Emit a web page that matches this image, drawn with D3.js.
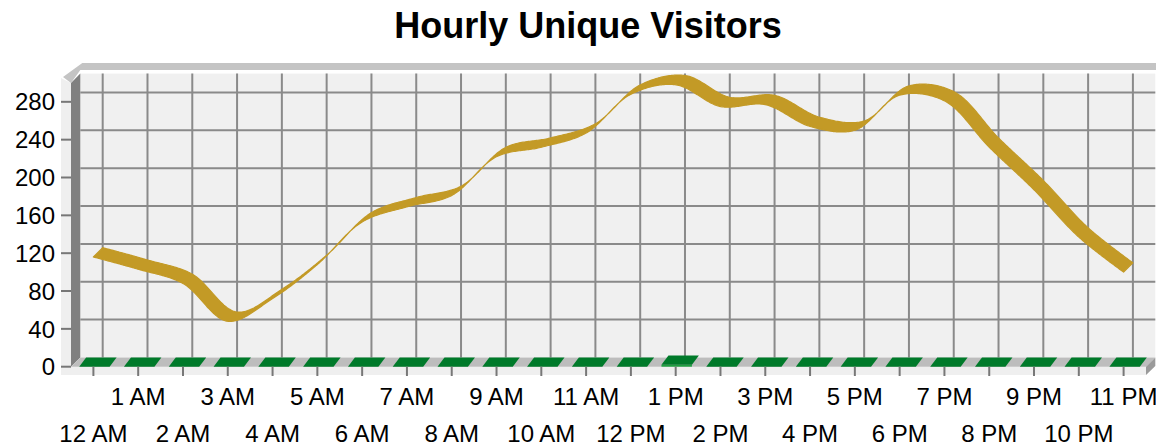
<!DOCTYPE html>
<html>
<head>
<meta charset="utf-8">
<script src="https://cdn.jsdelivr.net/npm/d3@7"></script>
<style>
  html, body { margin: 0; padding: 0; background: #fff; }
  svg { display: block; }
</style>
</head>
<body>
<svg id="chart"></svg>
<script>
// chart data
const hours = ["12 AM", "1 AM", "2 AM", "3 AM", "4 AM", "5 AM", "6 AM", "7 AM", "8 AM", "9 AM", "10 AM", "11 AM",
               "12 PM", "1 PM", "2 PM", "3 PM", "4 PM", "5 PM", "6 PM", "7 PM", "8 PM", "9 PM", "10 PM", "11 PM"];
const visitors = [116, 103, 88, 48, 72, 108, 153, 169, 181, 222, 232, 247,
                  288, 298, 275, 277, 254, 250, 287, 281, 232, 187, 137, 100];
const barValues = [0, 0, 0, 0, 0, 0, 0, 0, 0, 0, 0, 0, 0, 2, 0, 0, 0, 0, 0, 0, 0, 0, 0, 0];
const yTicks = [0, 40, 80, 120, 160, 200, 240, 280];
const title = "Hourly Unique Visitors";

const width = 1156, height = 446;
const depth = 9.3;               // 3d offset (right, up)
const font = "'Liberation Sans', Arial, sans-serif";

const svg = d3.select("#chart").attr("width", width).attr("height", height);

// front plane scales
const x = d3.scaleBand().domain(hours).range([71, 1146]).paddingInner(0).paddingOuter(0);
const y = d3.scaleLinear().domain([0, 300]).range([366.7, 82.9]);
const cx = d => x(d) + x.bandwidth() / 2;

// outer light slab (left face + floor front face)
svg.append("path")
    .attr("d", `M61,78 L71,${y(300)} L71,${y(0)} L1146,${y(0)} L1146,375 L61,375 Z`)
    .attr("fill", "#efefef");

// top rim of back wall
svg.append("path")
    .attr("d", `M63,77 L${71 + depth + 2},63 L1156,63 L1156,70 L${71 + depth},70 L71,${y(300)} Z`)
    .attr("fill", "#c4c4c4");

// back wall
svg.append("rect")
    .attr("x", 71 + depth).attr("y", y(300) - depth)
    .attr("width", 1146 - 71).attr("height", y(0) - y(300))
    .attr("fill", "#f0f0f0");

// left wall
svg.append("path")
    .attr("d", `M71,${y(300)} L${71 + depth},${y(300) - depth} L${71 + depth},${y(0) - depth} L71,${y(0)} Z`)
    .attr("fill", "#808080");

// floor
svg.append("path")
    .attr("d", `M71,${y(0)} L${71 + depth},${y(0) - depth} L${1146 + depth},${y(0) - depth} L1146,${y(0)} Z`)
    .attr("fill", "#bdbdbd");

// right end of floor slab
svg.append("path")
    .attr("d", `M1146,${y(0)} L${1146 + depth},${y(0) - depth} L${1146 + depth},366 L1146,375 Z`)
    .attr("fill", "#9a9a9a");

// back wall grid
const grid = svg.append("g").attr("stroke", "#8a8a8a").attr("stroke-width", 2);
grid.selectAll("line.h")
    .data(yTicks.filter(d => d > 0))
    .join("line")
    .attr("x1", 71 + depth).attr("x2", 1146 + depth)
    .attr("y1", d => y(d) - depth).attr("y2", d => y(d) - depth);
grid.selectAll("line.v")
    .data(hours)
    .join("line")
    .attr("x1", d => cx(d) + depth).attr("x2", d => cx(d) + depth)
    .attr("y1", y(300) - depth).attr("y2", y(0) - depth);

// 3d bars on the floor
const barW = x.bandwidth() * 0.68;
const bars = svg.append("g");
hours.forEach((h, i) => {
    const x0 = cx(h) - barW / 2 + 1, x1 = x0 + barW;
    const yt = y(barValues[i]);
    if (barValues[i] > 0) {
        bars.append("rect")
            .attr("x", x0).attr("y", yt)
            .attr("width", barW).attr("height", y(0) - yt)
            .attr("fill", "#1fa040");
    }
    bars.append("path")
        .attr("d", `M${x0},${yt} L${x0 + depth * 0.75},${yt - depth} L${x1 + depth * 0.75},${yt - depth} L${x1},${yt} Z`)
        .attr("fill", "#007a2a");
});

// 3d ribbon line
const line = d3.line()
    .x((d, i) => cx(hours[i]))
    .y(d => y(d))
    .curve(d3.curveCatmullRom.alpha(0.5));
const tmp = svg.append("path").attr("d", line(visitors)).attr("fill", "none");
const node = tmp.node();
const total = node.getTotalLength();
const n = 900;
const front = d3.range(n + 1).map(k => {
    const p = node.getPointAtLength(total * k / n);
    return [p.x, p.y];
});
tmp.remove();
const back = front.map(p => [p[0] + depth, p[1] - depth]).reverse();
svg.append("path")
    .attr("d", "M" + front.concat(back).map(p => p.join(",")).join("L") + "Z")
    .attr("fill", "#c39a26")
    .attr("fill-rule", "nonzero")
    .attr("stroke", "#c39a26")
    .attr("stroke-width", 1.2)
    .attr("stroke-linejoin", "round");

// y axis ticks and labels
const yAxis = svg.append("g");
yAxis.selectAll("line")
    .data(yTicks)
    .join("line")
    .attr("x1", 61).attr("x2", 71)
    .attr("y1", d => y(d)).attr("y2", d => y(d))
    .attr("stroke", "#777").attr("stroke-width", 2);
yAxis.selectAll("text")
    .data(yTicks)
    .join("text")
    .attr("x", 55).attr("y", d => y(d))
    .attr("dy", "0.36em")
    .attr("text-anchor", "end")
    .attr("font-family", font).attr("font-size", 24)
    .attr("fill", "#000")
    .text(d => d);

// x axis ticks and two rows of labels
const xAxis = svg.append("g");
xAxis.selectAll("line")
    .data(hours)
    .join("line")
    .attr("x1", d => cx(d)).attr("x2", d => cx(d))
    .attr("y1", y(0)).attr("y2", 376)
    .attr("stroke", "#777").attr("stroke-width", 2);
xAxis.selectAll("text")
    .data(hours)
    .join("text")
    .attr("x", d => cx(d))
    .attr("y", (d, i) => i % 2 ? 405 : 442)
    .attr("text-anchor", "middle")
    .attr("font-family", font).attr("font-size", 24)
    .attr("fill", "#000")
    .text(d => d);

// title
svg.append("text")
    .attr("x", 588).attr("y", 38)
    .attr("text-anchor", "middle")
    .attr("font-family", font).attr("font-size", 36).attr("font-weight", "bold")
    .text(title);
</script>
</body>
</html>
